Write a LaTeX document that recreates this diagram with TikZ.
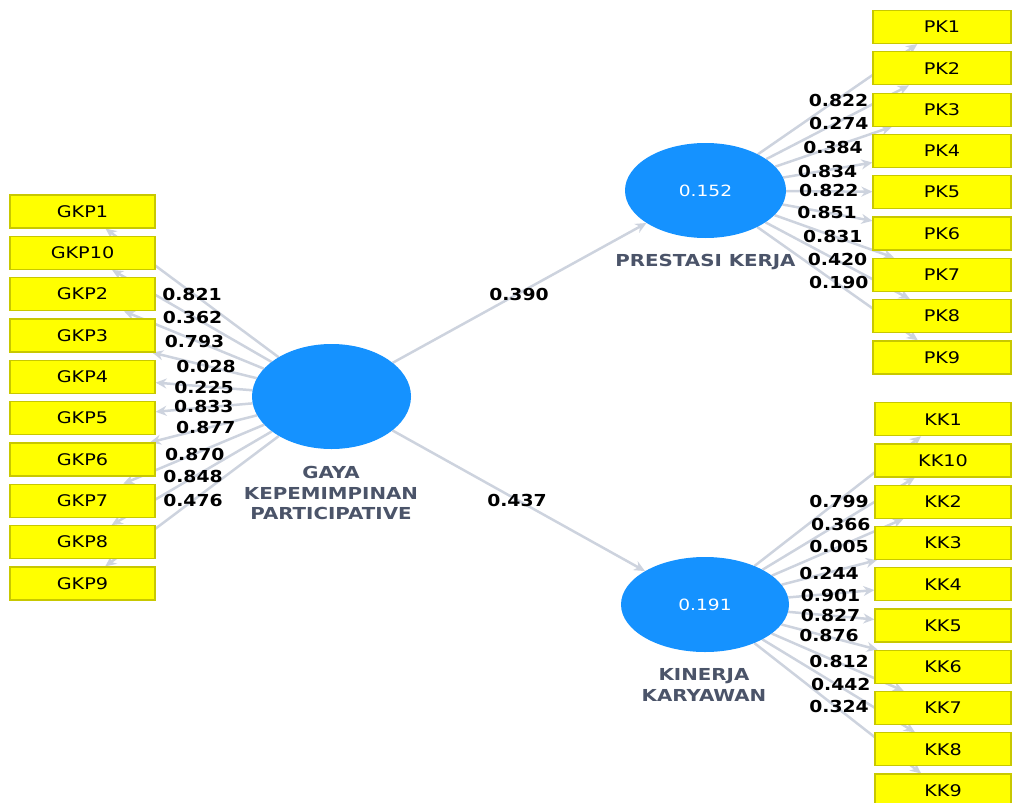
\documentclass[tikz,border=0pt]{standalone}
\usepackage{fontspec}
\newfontfamily\plsn[FakeStretch=1.2]{DejaVu Sans}
\newfontfamily\plsb[FakeStretch=1.14]{DejaVu Sans Bold}
\usetikzlibrary{arrows.meta,shapes.geometric,backgrounds}
\definecolor{indfill}{HTML}{FFFF00}
\definecolor{indline}{HTML}{C8C800}
\definecolor{lvfill}{HTML}{1592FF}
\definecolor{edgecol}{HTML}{CDD3DE}
\definecolor{lvtext}{HTML}{4B5469}
\tikzset{
  indicator/.style={draw=indline, fill=indfill, line width=1.2pt, minimum height=33pt,
    inner sep=0pt, font=\plsn\fontsize{16}{18}\selectfont},
  latent/.style={ellipse, fill=lvfill, inner sep=0pt, text=white,
    font=\plsn\fontsize{15.5}{18}\selectfont},
  lvname/.style={text=lvtext, font=\plsn\bfseries\fontsize{16.5}{20.5}\selectfont, align=center},
  loading/.style={font=\plsb\fontsize{16.5}{18}\selectfont, inner sep=0pt},
  link/.style={draw=edgecol, line width=2.5pt, -{Stealth[length=11pt,width=10pt]}},
}
\begin{document}
\begin{tikzpicture}[x=1pt,y=-1pt]
\useasboundingbox (0,0) rectangle (1012,803);
\clip (0,0) rectangle (1012,803);

% latent variables
\node[latent, minimum width=159pt, minimum height=105pt] (gkp) at (331.5,396.5) {};
\node[latent, minimum width=161pt, minimum height=95pt] (pk) at (705.5,190.5) {0.152};
\node[latent, minimum width=168pt, minimum height=95pt] (kk) at (705,604.5) {0.191};

\node[lvname] (gkpname) at (331,493) {GAYA\\KEPEMIMPINAN\\PARTICIPATIVE};
\node[lvname] (pkname) at (705.5,262) {PRESTASI KERJA};
\node[lvname] (kkname) at (704,685) {KINERJA\\KARYAWAN};

% indicators
\foreach \t [count=\i from 0] in {GKP1,GKP10,GKP2,GKP3,GKP4,GKP5,GKP6,GKP7,GKP8,GKP9}
  \node[indicator, minimum width=145pt] (g\i) at (82.5,211.5+41.33*\i) {\t};
\foreach \t [count=\i from 0] in {PK1,PK2,PK3,PK4,PK5,PK6,PK7,PK8,PK9}
  \node[indicator, minimum width=138pt] (p\i) at (942,27+41.3*\i) {\t};
\foreach \t [count=\i from 0] in {KK1,KK10,KK2,KK3,KK4,KK5,KK6,KK7,KK8,KK9}
  \node[indicator, minimum width=136pt] (k\i) at (943,419.2+41.26*\i) {\t};

% connectors behind the shapes
\begin{scope}[on background layer]
  \foreach \i in {0,...,9} \draw[link] (gkp) -- (g\i);
  \foreach \i in {0,...,8} \draw[link] (pk) -- (p\i);
  \foreach \i in {0,...,9} \draw[link] (kk) -- (k\i);
  \draw[link] (gkp) -- (pk);
  \draw[link] (gkp) -- (kk);
\end{scope}

% path coefficients
\node[loading] (c1) at (519,294) {0.390};
\node[loading] (c2) at (517,500) {0.437};

% outer loadings
\foreach \v/\x/\y [count=\i] in {0.821/192/294, 0.362/192.5/317.7, 0.793/194.5/341,
    0.028/206/366.7, 0.225/204/387.7, 0.833/203.8/406.7, 0.877/205.8/427.3,
    0.870/194.8/454, 0.848/193/476.7, 0.476/193/500}
  \node[loading] (lg\i) at (\x,\y) {\v};
\foreach \v/\x/\y [count=\i] in {0.822/838.5/100, 0.274/838.8/123, 0.384/833/147.7,
    0.834/827.5/171.7, 0.822/828.8/190.7, 0.851/827/212.3, 0.831/832.8/236,
    0.420/837.5/259.3, 0.190/838.8/282.7}
  \node[loading] (lp\i) at (\x,\y) {\v};
\foreach \v/\x/\y [count=\i] in {0.799/839/501.7, 0.366/840.8/524, 0.005/839/546.7,
    0.244/829/573.3, 0.901/830.5/595, 0.827/830.5/615, 0.876/829/635,
    0.812/839/661.7, 0.442/840.8/684.3, 0.324/839/706.7}
  \node[loading] (lk\i) at (\x,\y) {\v};
\end{tikzpicture}
\end{document}
